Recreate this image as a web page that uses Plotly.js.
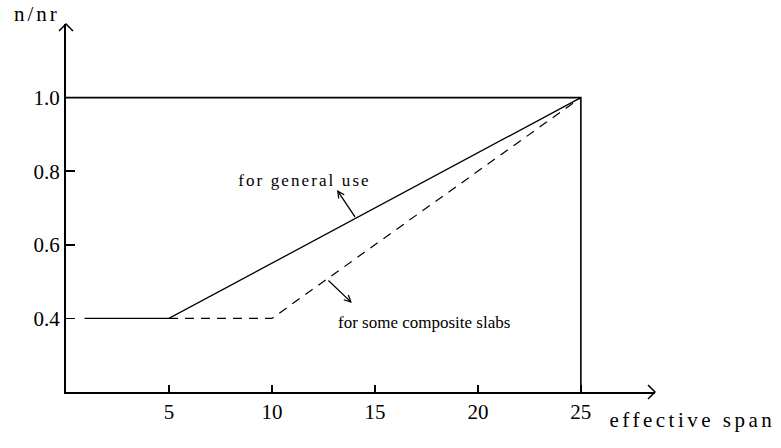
<!DOCTYPE html>
<html>
<head>
<meta charset="utf-8">
<script src="https://cdn.plot.ly/plotly-3.0.1.min.js"></script>
<style>
  html, body { margin: 0; padding: 0; background: #fff; }
  #chart { width: 781px; height: 448px; }
  .annotation[data-index="0"] text { letter-spacing: 3.5px; }
  .annotation[data-index="1"] text { letter-spacing: 3px; }
  .annotation[data-index="2"] text { letter-spacing: 2.1px; }
</style>
</head>
<body>
<div id="chart"></div>
<script>
// Reduction factor n/nr versus effective span
const spanGeneral = [0.9, 5, 25];
const ratioGeneral = [0.4, 0.4, 1.0];

const spanComposite = [5, 10, 25];
const ratioComposite = [0.4, 0.4, 1.0];

// upper bound (n/nr = 1.0) and the limit at span 25
const spanLimit = [0, 25, 25];
const ratioLimit = [1.0, 1.0, 0.2];

const spanTicks = [5, 10, 15, 20, 25];
const spanTickText = ['5', '10', '15', '20', '25'];
const ratioTicks = [0.4, 0.6, 0.8, 1.0];
const ratioTickText = ['0.4', '0.6', '0.8', '1.0'];

const serif = 'Liberation Serif, Times New Roman, serif';

const traces = [
  {
    x: spanLimit, y: ratioLimit, mode: 'lines', hoverinfo: 'skip',
    line: { color: '#000', width: 1.6 }
  },
  {
    x: spanGeneral, y: ratioGeneral, mode: 'lines', hoverinfo: 'skip',
    line: { color: '#000', width: 1.3 }
  },
  {
    x: spanComposite, y: ratioComposite, mode: 'lines', hoverinfo: 'skip',
    line: { color: '#000', width: 1.2, dash: '9px,7px' }
  }
];

const layout = {
  width: 781,
  height: 448,
  margin: { l: 66, r: 126, t: 24, b: 56 },
  paper_bgcolor: '#fff',
  plot_bgcolor: '#fff',
  showlegend: false,
  font: { family: serif, color: '#000' },
  xaxis: {
    range: [0, 28.6],
    showgrid: false, zeroline: false,
    showline: true, linecolor: '#000', linewidth: 2,
    tickvals: spanTicks, ticktext: spanTickText,
    ticks: 'inside', ticklen: 7, tickwidth: 1.5, tickcolor: '#000',
    tickfont: { family: serif, size: 21, color: '#000' },
    fixedrange: true
  },
  yaxis: {
    range: [0.2, 1.2],
    showgrid: false, zeroline: false,
    showline: true, linecolor: '#000', linewidth: 2,
    tickvals: ratioTicks, ticktext: ratioTickText,
    ticks: 'inside', ticklen: 9, tickwidth: 1.5, tickcolor: '#000',
    tickfont: { family: serif, size: 21, color: '#000' },
    fixedrange: true
  },
  shapes: [
    // arrow head at the end of the span axis
    {
      type: 'path', xref: 'paper', yref: 'paper',
      xsizemode: 'pixel', ysizemode: 'pixel', xanchor: 1, yanchor: 0,
      path: 'M-7,7 L0,0 L-7,-7',
      line: { color: '#000', width: 1.5 }
    },
    // arrow head at the top of the ratio axis
    {
      type: 'path', xref: 'paper', yref: 'paper',
      xsizemode: 'pixel', ysizemode: 'pixel', xanchor: 0, yanchor: 1,
      path: 'M-7,-7 L0,0 L7,-7',
      line: { color: '#000', width: 1.5 }
    }
  ],
  annotations: [
    {
      text: 'effective span', xref: 'paper', yref: 'paper', x: 0.961, y: -0.075,
      xanchor: 'left', yanchor: 'middle', showarrow: false,
      font: { family: serif, size: 21, color: '#000' }
    },
    {
      text: 'n/nr', xref: 'paper', yref: 'paper', x: -0.082, y: 1.026,
      xanchor: 'left', yanchor: 'middle', showarrow: false,
      font: { family: serif, size: 21, color: '#000' }
    },
    {
      text: 'for general use', xref: 'x', yref: 'y', x: 9.05, y: 0.776,
      xanchor: 'left', yanchor: 'middle', showarrow: false,
      font: { family: serif, size: 17, color: '#000' }
    },
    {
      text: 'for some composite slabs', xref: 'x', yref: 'y', x: 13.1, y: 0.39,
      xanchor: 'left', yanchor: 'middle', showarrow: false,
      font: { family: serif, size: 17, color: '#000' }
    },
    // pointer from the solid line to its label
    {
      text: '', xref: 'x', yref: 'y', x: 13.16, y: 0.749,
      axref: 'x', ayref: 'y', ax: 14.08, ay: 0.672,
      showarrow: true, arrowhead: 5, arrowsize: 1, arrowwidth: 1.3, arrowcolor: '#000'
    },
    // pointer from the dashed line to its label
    {
      text: '', xref: 'x', yref: 'y', x: 13.88, y: 0.442,
      axref: 'x', ayref: 'y', ax: 12.67, ay: 0.507,
      showarrow: true, arrowhead: 5, arrowsize: 1, arrowwidth: 1.3, arrowcolor: '#000'
    }
  ]
};

Plotly.newPlot('chart', traces, layout, { staticPlot: true, displayModeBar: false });
</script>
</body>
</html>
